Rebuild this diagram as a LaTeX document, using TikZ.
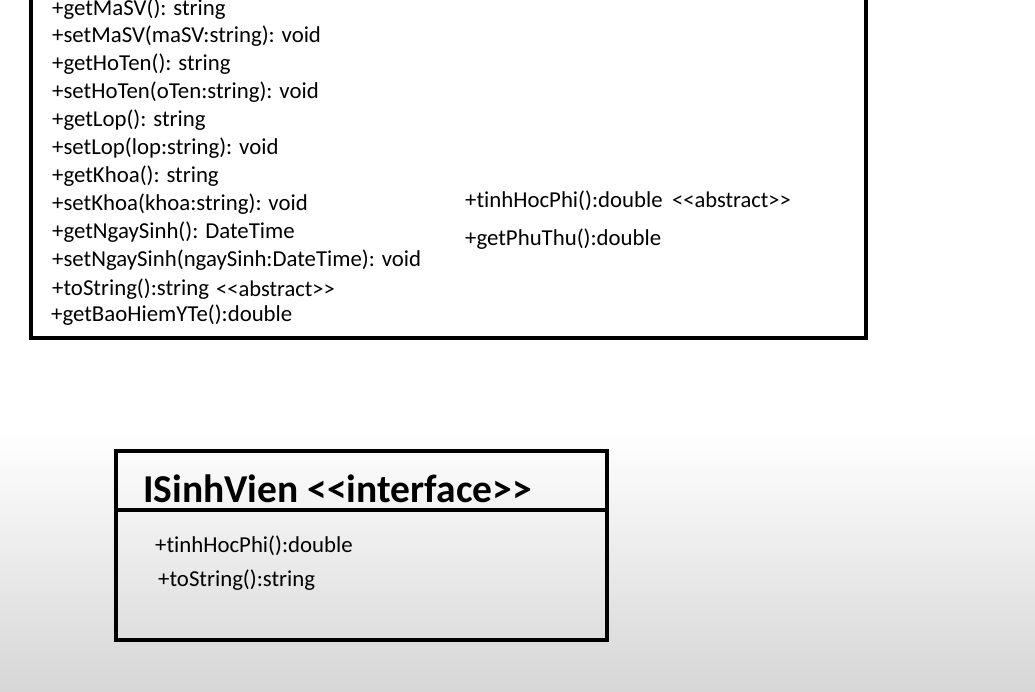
\documentclass[tikz,border=0pt]{standalone}
\usepackage{fontspec}
\setmainfont{Carlito}[Ligatures={TeXOff,CommonOff}]
\begin{document}
\begin{tikzpicture}[x=1pt,y=-1pt,
  box/.style={draw=black,line width=4pt,rectangle,inner sep=0pt},
  member/.style={anchor=west,inner sep=0pt,font=\fontsize{22.8}{24}\selectfont},
  stereo/.style={anchor=west,inner sep=0pt,font=\fontsize{22.5}{24}\selectfont},
  title/.style={anchor=west,inner sep=0pt,font=\fontsize{39.5}{42}\selectfont\bfseries}]
\useasboundingbox (0,0) rectangle (1035,692);
\clip (0,0) rectangle (1035,692);
\shade[top color=white,bottom color=white] (0,0) rectangle (1035,430);
\shade[top color=white,bottom color=black!16] (0,430) rectangle (1035,692);
% top class box (top edge off-screen)
\node[box,minimum width=835pt,minimum height=368pt] (sv) at (448.5,154) {};
\node[member] (m1) at (52,9) {+getMaSV(): string};
\node[member] (m2) at (52,36) {+setMaSV(maSV:string): void};
\node[member] (m3) at (52,64) {+getHoTen(): string};
\node[member] (m4) at (52,92) {+setHoTen(oTen:string): void};
\node[member] (m5) at (52,120) {+getLop(): string};
\node[member] (m6) at (52,148) {+setLop(lop:string): void};
\node[member] (m7) at (52,176) {+getKhoa(): string};
\node[member] (m8) at (52,204) {+setKhoa(khoa:string): void};
\node[member] (m9) at (52,232) {+getNgaySinh(): DateTime};
\node[member] (m10) at (52,260) {+setNgaySinh(ngaySinh:DateTime): void};
\node[member] (m11) at (52,289) {+toString():string};
\node[stereo] (s11) at (216,289) {<<abstract>>};
\node[member] (m12) at (51,315) {+getBaoHiemYTe():double};
\node[member] (r1) at (465,201) {+tinhHocPhi():double};
\node[stereo] (s1) at (672,200) {<<abstract>>};
\node[member] (r2) at (465,239) {+getPhuThu():double};
% interface box
\node[box,minimum width=491pt,minimum height=189pt] (isv) at (361.5,545.5) {};
\draw[line width=4pt] (isv.west |- 0,510) -- (isv.east |- 0,510);
\node[title] (t) at (143,489) {ISinhVien <<interface>>};
\node[member] (i1) at (155,546) {+tinhHocPhi():double};
\node[member] (i2) at (158,580) {+toString():string};
\end{tikzpicture}
\end{document}
